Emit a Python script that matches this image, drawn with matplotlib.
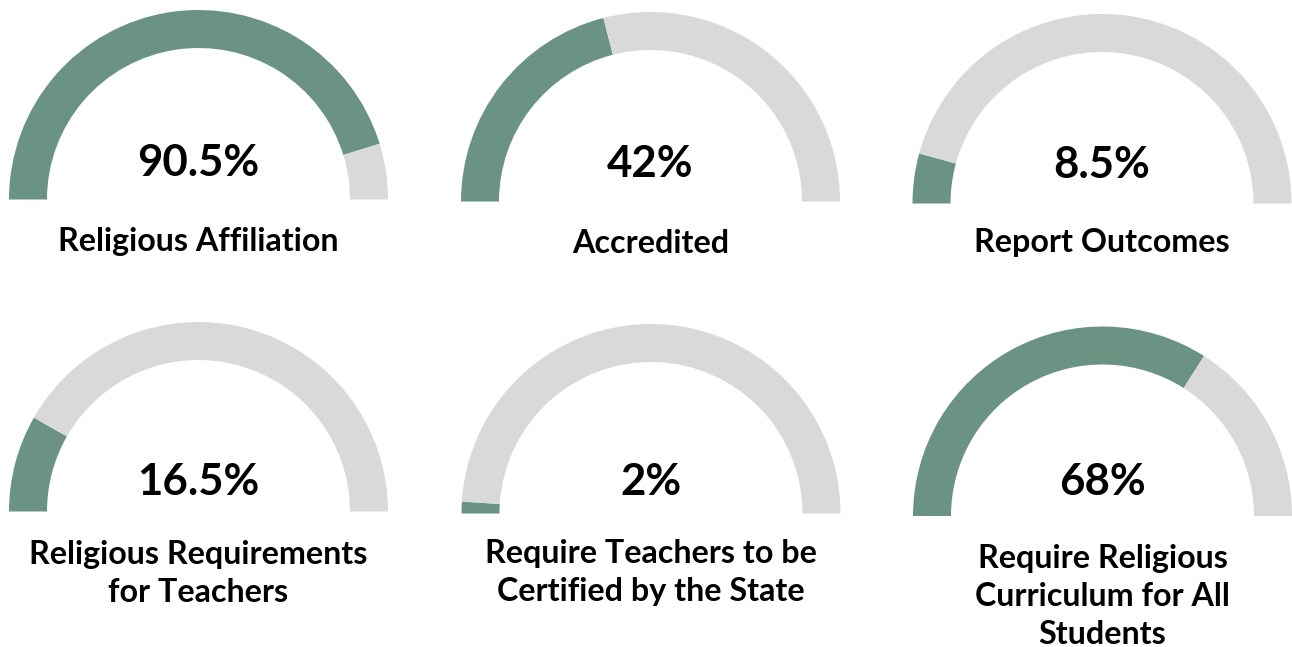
import matplotlib
matplotlib.use("Agg")
import matplotlib.pyplot as plt
from matplotlib.patches import Wedge

# ---- data ----
values = [90.5, 42, 8.5, 16.5, 2, 68]
value_labels = ["90.5%", "42%", "8.5%", "16.5%", "2%", "68%"]
titles = [
    ["Religious Affiliation"],
    ["Accredited"],
    ["Report Outcomes"],
    ["Religious Requirements", "for Teachers"],
    ["Require Teachers to be", "Certified by the State"],
    ["Require Religious", "Curriculum for All", "Students"],
]

# ---- layout (pixel coordinates) ----
centers = [(198.5, 199.5), (650.5, 201.5), (1102, 203.5),
           (198.5, 511.5), (651, 513.5), (1102.5, 516)]
pct_baseline = [176, 177, 178, 495, 495, 495]
title_baseline = [251, 253, 252, 564, 563, 568]
line_step = 38
R_OUT = 189.5
WIDTH = 38

GREEN = "#6b9384"
GREY = "#d9d9d9"

W, H = 1292, 647
fig = plt.figure(figsize=(W / 100, H / 100), dpi=100)
ax = fig.add_axes([0, 0, 1, 1])
ax.set_xlim(0, W)
ax.set_ylim(H, 0)
ax.axis("off")

FONT = "Lato"

for i, v in enumerate(values):
    cx, cy = centers[i]
    split = 180 + 180 * v / 100.0
    # y axis is inverted, so the upper half spans 180 -> 360 degrees
    ax.add_patch(Wedge((cx, cy), R_OUT, 180, split, width=WIDTH,
                       facecolor=GREEN, edgecolor="none"))
    ax.add_patch(Wedge((cx, cy), R_OUT, split, 360, width=WIDTH,
                       facecolor=GREY, edgecolor="none"))
    ax.text(cx, pct_baseline[i], value_labels[i], ha="center", va="baseline",
            fontsize=31.5, fontweight="bold", family=FONT, color="#000000")
    for j, line in enumerate(titles[i]):
        ax.text(cx, title_baseline[i] + j * line_step, line, ha="center",
                va="baseline", fontsize=23.2, fontweight="bold", family=FONT,
                color="#000000")

fig.savefig("out.png", dpi=100, facecolor="white")
